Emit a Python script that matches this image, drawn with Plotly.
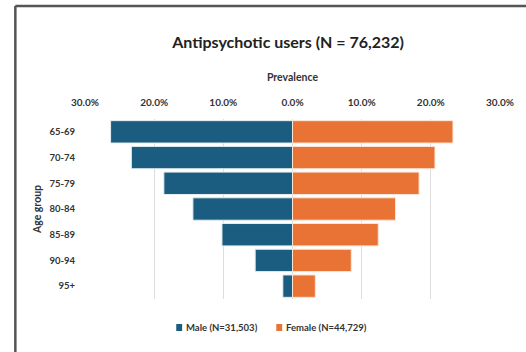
import plotly.graph_objects as go

# Age groups, top to bottom
age_groups = ["65-69", "70-74", "75-79", "80-84", "85-89", "90-94", "95+"]
# Prevalence (%) by sex
male_pct = [26.3, 23.3, 18.6, 14.4, 10.2, 5.4, 1.4]
female_pct = [23.2, 20.6, 18.3, 14.9, 12.4, 8.5, 3.3]
male_label = "Male (N=31,503)"
female_label = "Female (N=44,729)"
title_text = "Antipsychotic users (N = 76,232)"
tick_vals = [-30, -20, -10, 0, 10, 20, 30]
tick_text = ["30.0%", "20.0%", "10.0%", "0.0%", "10.0%", "20.0%", "30.0%"]

MALE_C = "#1a5d80"
FEMALE_C = "#e87334"
FONT = "Lato"
TXT = "#333333"

W, H = 526, 352
L, R, T, B = 85, 18, 119, 53
pw, ph = W - L - R, H - T - B


def px_x(p):
    return (p - L) / pw


def px_y(p):
    return (H - B - p) / ph


fig = go.Figure()
fig.add_trace(go.Bar(
    y=age_groups, x=[-v for v in male_pct], orientation="h",
    marker=dict(color=MALE_C, line=dict(color="#e6eef2", width=1)),
    showlegend=False, name=male_label,
))
fig.add_trace(go.Bar(
    y=age_groups, x=female_pct, orientation="h",
    marker=dict(color=FEMALE_C, line=dict(color="#fbe6da", width=1)),
    showlegend=False, name=female_label,
))

# compact legend: small colour keys followed by their labels
legend_items = [(male_label, MALE_C, 178), (female_label, FEMALE_C, 280)]
shapes = []
annotations = []
for name, col, x0 in legend_items:
    shapes.append(dict(type="rect", xref="paper", yref="paper",
                       x0=px_x(x0), x1=px_x(x0 + 6), y0=px_y(331), y1=px_y(324),
                       fillcolor=col, line=dict(width=0)))
    annotations.append(dict(text="<b>" + name + "</b>", xref="paper", yref="paper",
                            x=px_x(x0 + 8), y=px_y(327.5), xanchor="left",
                            yanchor="middle", showarrow=False,
                            font=dict(size=9.5, color=TXT)))

# chart frame (top and left edges)
shapes += [
    dict(type="line", xref="paper", yref="paper",
         x0=px_x(14), x1=px_x(540), y0=px_y(6), y1=px_y(6),
         line=dict(color="#555555", width=2.5)),
    dict(type="line", xref="paper", yref="paper",
         x0=px_x(14), x1=px_x(14), y0=px_y(6), y1=px_y(370),
         line=dict(color="#555555", width=2.5)),
]

fig.update_layout(
    width=W, height=H,
    margin=dict(l=L, r=R, t=T, b=B),
    paper_bgcolor="white", plot_bgcolor="white",
    barmode="overlay", bargap=0.13,
    font=dict(family=FONT, color=TXT),
    title=dict(text="<b>" + title_text + "</b>", x=px_x(292), xref="paper",
               xanchor="center", y=1 - 42 / H, yanchor="middle",
               font=dict(size=16, color="#222222")),
    showlegend=False,
    xaxis=dict(
        range=[-30, 30], side="top", tickvals=tick_vals,
        ticktext=["<b>" + t + "</b>" for t in tick_text],
        tickfont=dict(size=10, color=TXT),
        showgrid=True, gridcolor="#dddddd", gridwidth=1,
        zeroline=False, showline=False, ticks="",
        ticklabelstandoff=10,
        title=dict(text="<b>Prevalence</b>", font=dict(size=10.5, color=TXT),
                   standoff=12),
        fixedrange=True,
    ),
    yaxis=dict(
        categoryorder="array", categoryarray=age_groups, autorange="reversed",
        tickvals=age_groups, ticktext=["<b>" + a + "</b>" for a in age_groups],
        tickfont=dict(size=9.5, color=TXT),
        showgrid=False, zeroline=False, showline=False, ticks="",
        ticklabelstandoff=9,
        title=dict(text="<b>Age group</b>", font=dict(size=10.5, color=TXT),
                   standoff=5),
    ),
    shapes=shapes,
    annotations=annotations,
)

fig.write_html("out.html")
